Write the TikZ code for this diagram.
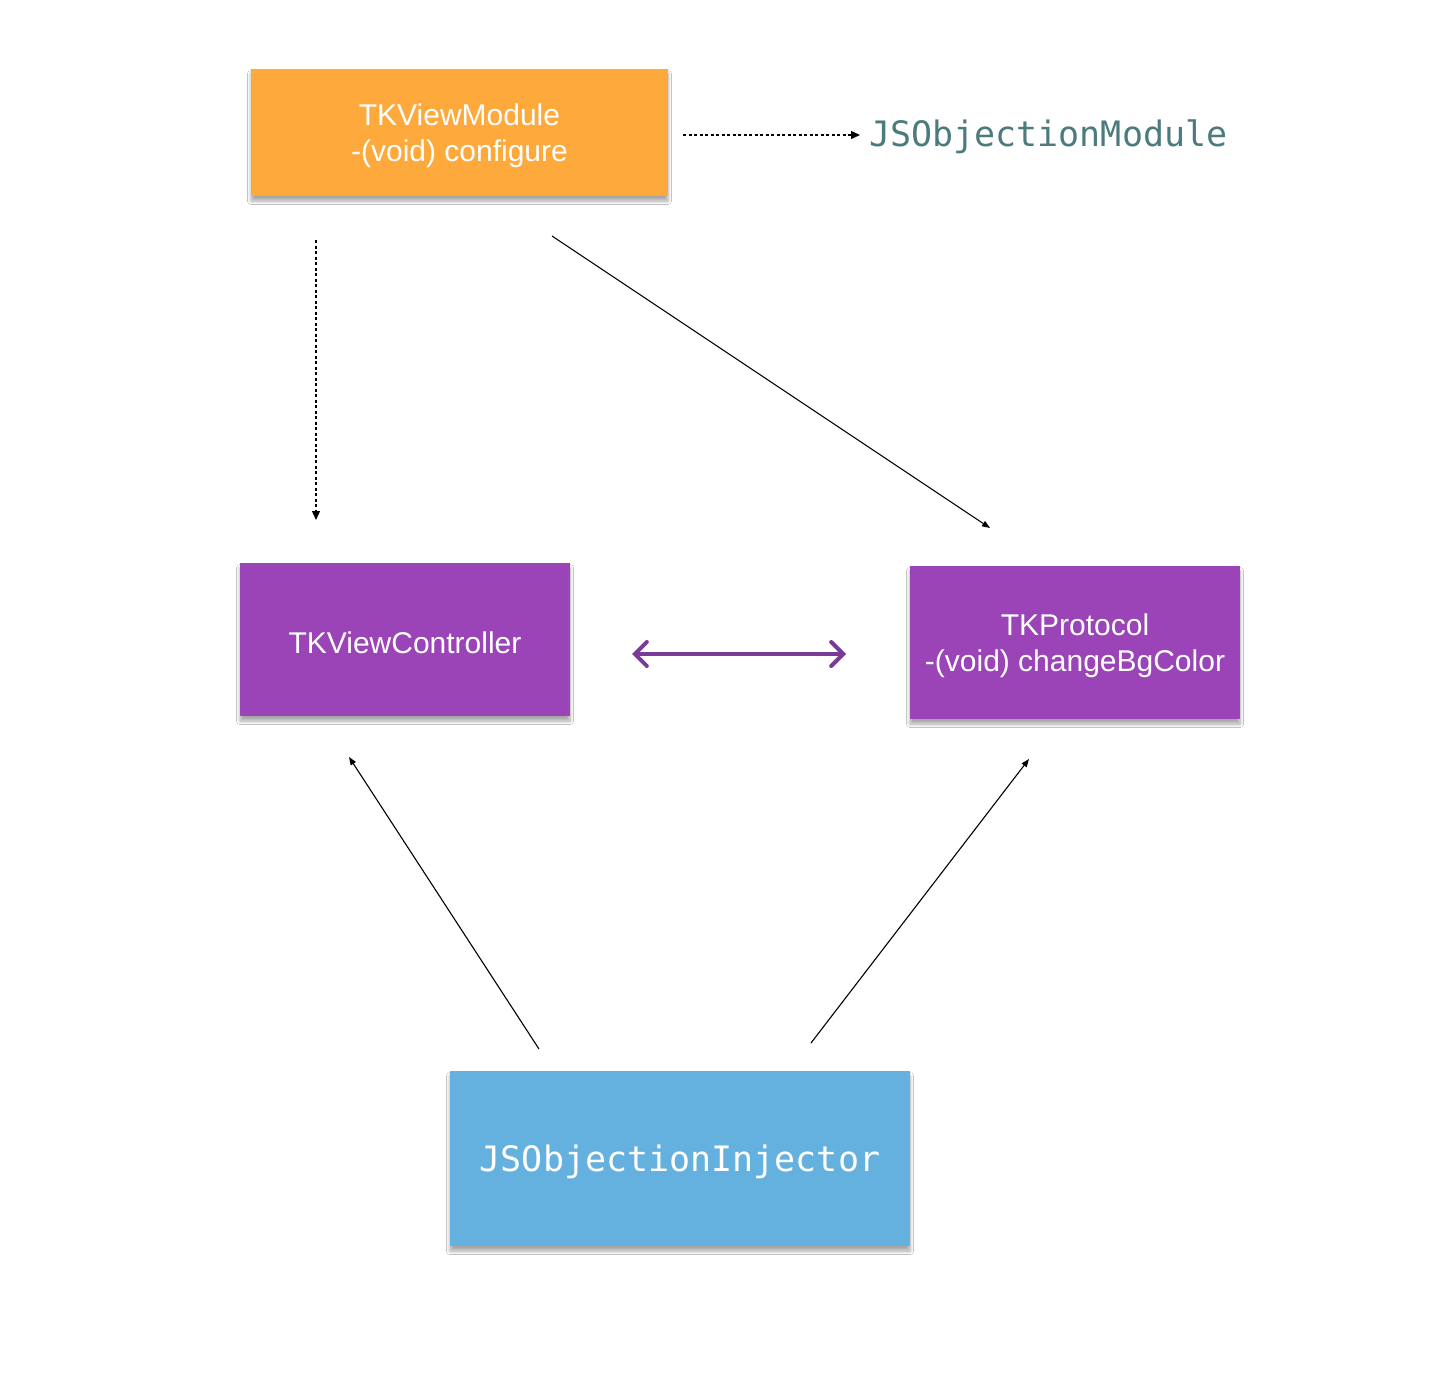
\documentclass[tikz,border=0pt]{standalone}
\usepackage{fontspec}
\setmainfont{Liberation Sans}
\setmonofont{DejaVu Sans Mono}
\usetikzlibrary{arrows.meta,shadows.blur,calc}
\definecolor{orangebox}{HTML}{FEA93C}
\definecolor{purplebox}{HTML}{9A44B7}
\definecolor{bluebox}{HTML}{64B0DE}
\definecolor{tealtext}{HTML}{4B7B7C}
\definecolor{arrowpurple}{HTML}{7A3A9A}
\newcommand{\twolines}[2]{\raisebox{-4pt}[\height][\depth]{\begin{tabular}{@{}c@{}}#1\\#2\end{tabular}}}
\newcommand{\lowered}[1]{\raisebox{-3pt}[\height][\depth]{#1}}
\tikzset{
  boxbase/.style={rectangle, anchor=center, text=white, align=center,
    font=\fontsize{30}{36}\selectfont,
    blur shadow={shadow xshift=0pt, shadow yshift=-5pt, shadow blur radius=3.5pt, shadow opacity=35, shadow blur steps=6}},
  dotarrow/.style={line width=1.3pt, dash pattern=on 3pt off 2.5pt, -{Triangle[length=9pt,width=8pt]}},
  solidarrow/.style={line width=1.1pt, -{Triangle[length=8pt,width=6pt]}},
  purplearrow/.style={draw=arrowpurple, line width=4pt, line cap=round,
    {Straight Barb[length=12pt,width=24pt,line cap=round]}-{Straight Barb[length=12pt,width=24pt,line cap=round]}}
}
\begin{document}
\begin{tikzpicture}[x=1pt,y=-1pt]
\useasboundingbox[fill=white] (0,0) rectangle (1430,1394);
\node[boxbase, fill=orangebox, minimum width=417pt, minimum height=127pt] (mod) at (459.5,132.5) {\twolines{TKViewModule}{-(void) configure}};
\node[boxbase, fill=purplebox, minimum width=330pt, minimum height=153pt] (vc) at (405,639.5) {\lowered{TKViewController}};
\node[boxbase, fill=purplebox, minimum width=330pt, minimum height=153pt] (proto) at (1075,642.5) {\twolines{TKProtocol}{-(void) changeBgColor}};
\node[boxbase, fill=bluebox, minimum width=460pt, minimum height=175pt, font=\ttfamily\fontsize{35}{40}\selectfont] (inj) at (680,1158.5) {\lowered{JSObjectionInjector}};
\node[anchor=west, text=tealtext, font=\ttfamily\fontsize{35}{40}\selectfont, inner sep=0pt] (jsm) at (869,137) {JSObjectionModule};

\coordinate (m1) at (683,135);
\coordinate (m2) at (316,240);
\coordinate (m3) at (552,236);
\coordinate (v1) at (316,520);
\coordinate (p1) at (990,528);
\coordinate (v2) at (632,654);
\coordinate (p2) at (846,654);
\coordinate (i1) at (539,1049);
\coordinate (v3) at (349,757);
\coordinate (i2) at (811,1043);
\coordinate (p3) at (1029,759);

\draw[dotarrow] (m1) -- (m1 -| 860,0);
\draw[dotarrow] (m2) -- (v1);
\draw[solidarrow] (m3) -- (p1);
\draw[purplearrow] (v2) -- (p2);
\draw[solidarrow] (i1) -- (v3);
\draw[solidarrow] (i2) -- (p3);
\end{tikzpicture}
\end{document}
